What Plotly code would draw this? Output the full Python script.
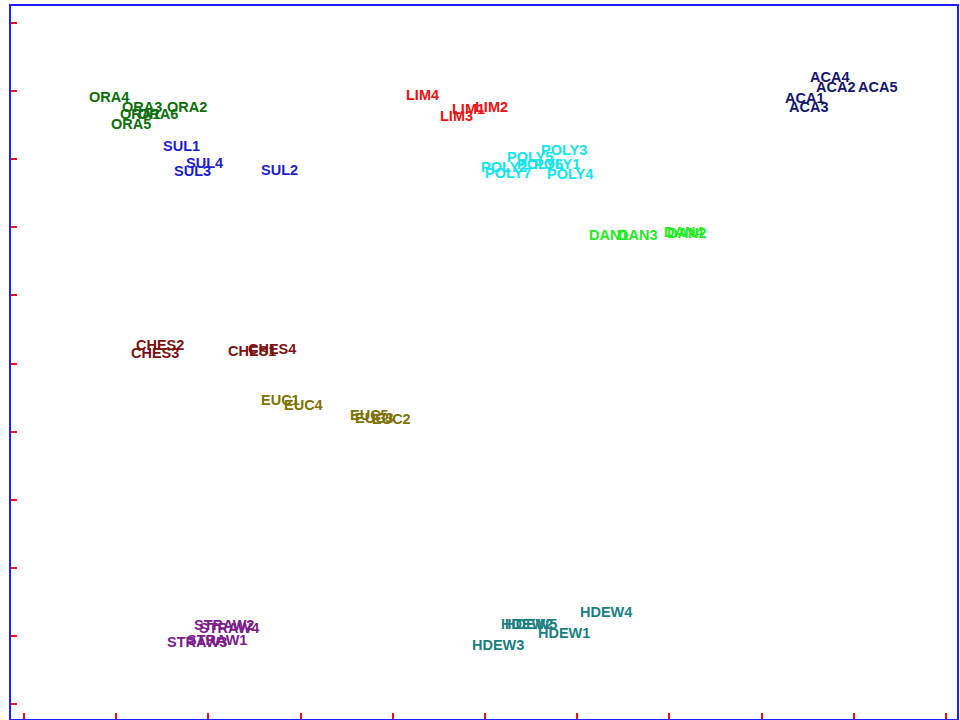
import plotly.graph_objects as go

# Sample labels, ordination coordinates (axis 1, axis 2) and group colours
ora_labels = ["ORA1", "ORA2", "ORA3", "ORA4", "ORA5", "ORA6"]
ora_x = [1.26, 1.77, 1.28, 0.92, 1.16, 1.45]
ora_y = [8.69, 8.80, 8.80, 8.95, 8.55, 8.69]

sul_labels = ["SUL1", "SUL2", "SUL3", "SUL4"]
sul_x = [1.71, 2.77, 1.83, 1.96]
sul_y = [8.22, 7.87, 7.86, 7.97]

lim_labels = ["LIM1", "LIM2", "LIM3", "LIM4"]
lim_x = [4.82, 5.07, 4.69, 4.32]
lim_y = [8.77, 8.80, 8.66, 8.97]

poly_labels = ["POLY1", "POLY2", "POLY3", "POLY4", "POLY5", "POLY6", "POLY7"]
poly_x = [5.78, 5.21, 5.86, 5.92, 5.49, 5.60, 5.25]
poly_y = [7.96, 7.91, 8.16, 7.81, 8.06, 7.96, 7.83]

aca_labels = ["ACA1", "ACA2", "ACA3", "ACA4", "ACA5"]
aca_x = [8.46, 8.80, 8.51, 8.74, 9.26]
aca_y = [8.93, 9.09, 8.80, 9.23, 9.09]

dan_labels = ["DAN1", "DAN2", "DAN3", "DAN4"]
dan_x = [6.34, 7.19, 6.65, 7.15]
dan_y = [6.91, 6.95, 6.92, 6.96]

ches_labels = ["CHES1", "CHES2", "CHES3", "CHES4"]
ches_x = [2.47, 1.48, 1.42, 2.69]
ches_y = [5.22, 5.30, 5.19, 5.25]

euc_labels = ["EUC1", "EUC2", "EUC3", "EUC4", "EUC5"]
euc_x = [2.78, 3.99, 3.80, 3.03, 3.75]
euc_y = [4.49, 4.22, 4.23, 4.42, 4.27]

straw_labels = ["STRAW1", "STRAW2", "STRAW3", "STRAW4"]
straw_x = [2.09, 2.17, 1.88, 2.22]
straw_y = [0.97, 1.19, 0.94, 1.15]

hdew_labels = ["HDEW1", "HDEW2", "HDEW3", "HDEW4", "HDEW5"]
hdew_x = [5.86, 5.46, 5.14, 6.31, 5.50]
hdew_y = [1.07, 1.21, 0.89, 1.38, 1.20]

groups = [
    (ora_labels, ora_x, ora_y, "#0b6e0b"),
    (sul_labels, sul_x, sul_y, "#1c1cd2"),
    (lim_labels, lim_x, lim_y, "#ee1111"),
    (poly_labels, poly_x, poly_y, "#10e4ec"),
    (aca_labels, aca_x, aca_y, "#15166e"),
    (dan_labels, dan_x, dan_y, "#22ea22"),
    (ches_labels, ches_x, ches_y, "#7a1010"),
    (euc_labels, euc_x, euc_y, "#7d7300"),
    (straw_labels, straw_x, straw_y, "#7a1c8c"),
    (hdew_labels, hdew_x, hdew_y, "#1a7f80"),
]

fig = go.Figure()
# invisible carrier trace so the axes are laid out
fig.add_trace(go.Scatter(x=[], y=[], mode="markers", showlegend=False))

for labels, xs, ys, color in groups:
    for lab, x, y in zip(labels, xs, ys):
        fig.add_annotation(
            x=x, y=y, xref="x", yref="y", text=lab, showarrow=False,
            xanchor="center", yanchor="middle", yshift=-2,
            font=dict(family="Arial, Liberation Sans, sans-serif", size=14.5,
                      color=color, weight="bold"),
        )

axis_style = dict(
    showline=True, mirror=True, linecolor="#1f1fff", linewidth=2,
    ticks="inside", ticklen=6, tickwidth=2, tickcolor="#ee1111",
    tick0=0, dtick=1, showticklabels=False,
    showgrid=False, zeroline=False, fixedrange=True,
)

fig.update_layout(
    width=960, height=720,
    margin=dict(l=11, r=3, t=6, b=1),
    paper_bgcolor="white", plot_bgcolor="white",
    xaxis=dict(range=[-0.141, 10.119], **axis_style),
    yaxis=dict(range=[-0.220, 10.250], **axis_style),
)

fig.write_html("out.html")
